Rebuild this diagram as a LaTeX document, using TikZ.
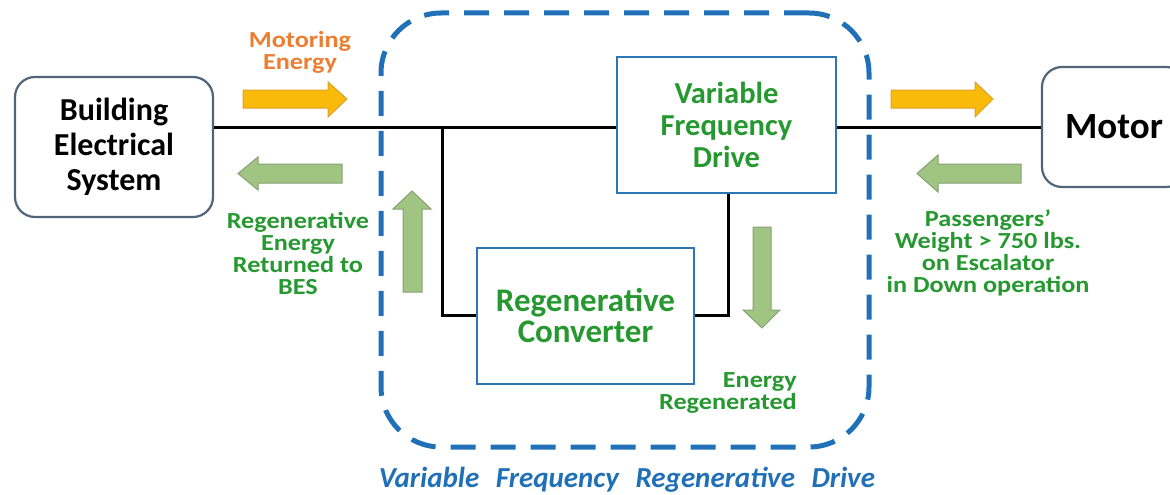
\documentclass[tikz,border=0pt]{standalone}
\usepackage{fontspec}
\setmainfont{Carlito}
\newfontfamily\lblfont{Carlito}[FakeStretch=1.14]
\definecolor{txtgreen}{RGB}{38,152,48}
\definecolor{txtorange}{RGB}{237,125,49}
\definecolor{boxblue}{RGB}{46,117,182}
\definecolor{dashblue}{RGB}{32,112,184}
\definecolor{besgray}{RGB}{80,100,122}
\definecolor{arrorange}{RGB}{250,186,10}
\definecolor{arrorangeb}{RGB}{222,160,40}
\definecolor{arrgreen}{RGB}{160,196,130}
\definecolor{arrgreenb}{RGB}{135,160,115}
\begin{document}
\begin{tikzpicture}[x=1pt,y=1pt,
  outerbox/.style={draw=besgray,line width=2.2pt,rounded corners=20pt,align=center,font=\bfseries\fontsize{32}{35}\selectfont,inner sep=0pt},
  innerbox/.style={draw=boxblue,line width=2.5pt,align=center,text=txtgreen,inner sep=0pt},
  wire/.style={line width=3pt,black},
  orangearr/.style={fill=arrorange,draw=arrorangeb,line width=1pt},
  greenarr/.style={fill=arrgreen,draw=arrgreenb,line width=1pt},
  lbl/.style={align=center,text=txtgreen,font=\lblfont\bfseries\fontsize{23}{22}\selectfont,inner sep=0pt}]
\useasboundingbox (0,0) rectangle (1170,-495);
\clip (0,0) rectangle (1170,-495);
% dashed enclosure
\node[draw=dashblue,line width=5pt,dash pattern=on 25pt off 15pt,rounded corners=60pt,minimum width=488pt,minimum height=434pt,inner sep=0pt] (encl) at (625,-230) {};
% boxes
\node[outerbox,minimum width=198pt,minimum height=140pt] (bes) at (114,-147) {Building\\Electrical\\System};
\node[outerbox,minimum width=144pt,minimum height=120pt,font=\bfseries\fontsize{37}{40}\selectfont] (motor) at (1114,-127) {Motor};
\node[innerbox,minimum width=219pt,minimum height=136pt,font=\bfseries\fontsize{30.5}{32}\selectfont] (vfd) at (726.5,-125) {Variable\\Frequency\\Drive};
\node[innerbox,minimum width=217pt,minimum height=136pt,font=\bfseries\fontsize{33}{31}\selectfont] (rc) at (585.5,-316) {Regenerative\\Converter};
% wires
\coordinate (j1) at (442,-127);
\coordinate (j2) at (442,-315);
\coordinate (j3) at (728,-315);
\draw[wire] (bes.east |- j1) -- (vfd.west |- j1);
\draw[wire] (j1) -- (j2) -- (rc.west |- j2);
\draw[wire] (rc.east |- j3) -- (j3) -- (j3 |- vfd.south);
\draw[wire] (vfd.east |- j1) -- (motor.west |- j1);
% block arrows
\draw[orangearr] (243,-90) -- (328,-90) -- (328,-82) -- (347,-99) -- (328,-117) -- (328,-108) -- (243,-108) -- cycle;
\draw[orangearr] (891,-90) -- (975,-90) -- (975,-82) -- (993,-99) -- (975,-117) -- (975,-108) -- (891,-108) -- cycle;
\draw[greenarr] (342,-164) -- (258,-164) -- (258,-157) -- (238,-173.5) -- (258,-190) -- (258,-183) -- (342,-183) -- cycle;
\draw[greenarr] (1021,-164) -- (938,-164) -- (938,-155) -- (917,-173.5) -- (938,-192) -- (938,-183) -- (1021,-183) -- cycle;
\draw[greenarr] (403,-292) -- (403,-209) -- (393,-209) -- (412,-191) -- (431,-209) -- (422,-209) -- (422,-292) -- cycle;
\draw[greenarr] (753,-227) -- (753,-310) -- (743,-310) -- (762,-328) -- (780,-310) -- (771,-310) -- (771,-227) -- cycle;
% labels
\node[lbl,text=txtorange] (mot) at (300,-52) {Motoring\\Energy};
\node[lbl] (ret) at (298,-253) {Regenerative\\Energy\\Returned to\\BES};
\node[lbl] (pass) at (988,-253) {Passengers’\\Weight > 750 lbs.\\on Escalator\\in Down operation};
\node[lbl,align=right,anchor=east] (ereg) at (797,-393) {Energy\\Regenerated};
\node[inner sep=0pt,text=dashblue,font=\bfseries\itshape\fontsize{29}{30}\selectfont] (title) at (627,-480) {Variable\hspace{10pt} Frequency\hspace{10pt} Regenerative\hspace{10pt} Drive};
\end{tikzpicture}
\end{document}
